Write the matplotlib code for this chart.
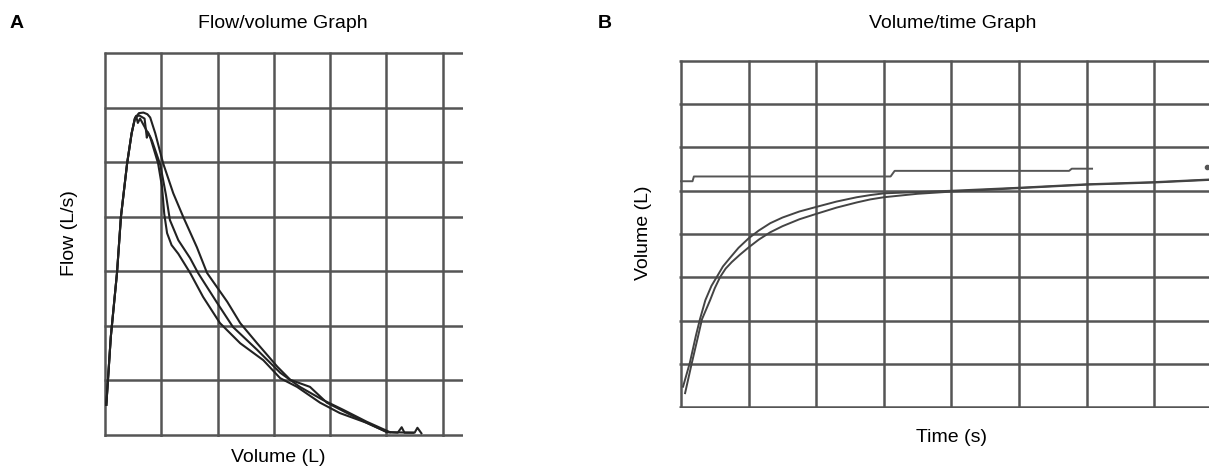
import matplotlib.pyplot as plt

plt.rcParams['font.family'] = ['Liberation Sans', 'DejaVu Sans']

W, H = 1209, 475

# Panel A: flow/volume loops (grid units)
rise_vol = [0.02, 0.10, 0.21, 0.28, 0.39, 0.47, 0.53]
rise_flow = [0.55, 1.80, 2.97, 4.00, 4.98, 5.53, 5.81]

a1_vol = [0.60, 0.68, 0.75, 0.80, 0.89, 1.03, 1.21, 1.39, 1.63, 1.81, 2.17, 2.40,
          2.70, 3.06, 3.29, 3.64, 3.94, 4.30, 4.65, 5.01, 5.47]
a1_flow = [5.90, 5.91, 5.88, 5.82, 5.53, 4.98, 4.43, 3.99, 3.44, 2.97, 2.44, 2.05,
           1.68, 1.25, 1.01, 0.88, 0.59, 0.40, 0.22, 0.05, 0.04]

a2_vol = [0.55, 0.58, 0.62, 0.80, 0.94, 1.01, 1.05, 1.10, 1.18, 1.30, 1.51, 1.74,
          2.04, 2.40, 2.81, 3.11, 3.41, 3.82, 4.17, 4.65, 5.01, 5.20, 5.27, 5.32,
          5.50, 5.55, 5.62]
a2_flow = [5.85, 5.72, 5.80, 5.46, 4.98, 4.55, 4.05, 3.70, 3.48, 3.32, 2.97, 2.53,
           2.05, 1.68, 1.37, 1.04, 0.88, 0.59, 0.40, 0.22, 0.05, 0.04, 0.14, 0.04,
           0.04, 0.13, 0.03]

a3_vol = [0.60, 0.70, 0.74, 0.76, 0.83, 0.98, 1.08, 1.15, 1.30, 1.51, 1.65, 1.99,
          2.27, 2.70, 3.11, 3.46, 3.87, 4.23, 4.65, 5.06]
a3_flow = [5.86, 5.80, 5.45, 5.55, 5.40, 4.95, 4.40, 3.94, 3.57, 3.24, 2.97, 2.42,
           1.98, 1.56, 1.14, 0.88, 0.64, 0.46, 0.24, 0.05]

# Panel B: volume/time traces (grid units)
b1_time = [0.03, 0.13, 0.22, 0.28, 0.36, 0.45, 0.53, 0.62, 0.72, 0.85, 1.00, 1.15,
           1.32, 1.50, 1.75, 2.01, 2.30, 2.60, 2.80, 3.00, 3.50, 4.00, 5.00, 6.00,
           7.00, 7.81]
b1_vol = [0.47, 1.02, 1.65, 2.03, 2.47, 2.80, 3.01, 3.25, 3.44, 3.68, 3.90, 4.08,
          4.25, 4.38, 4.52, 4.63, 4.75, 4.85, 4.90, 4.94, 4.97, 5.00, 5.07, 5.15,
          5.20, 5.26]

b2_time = [0.06, 0.16, 0.25, 0.31, 0.43, 0.50, 0.58, 0.66, 0.75, 0.87, 1.00, 1.15,
           1.32, 1.50, 1.75, 2.01, 2.30, 2.60, 2.80, 3.00, 3.50, 4.00, 5.00, 6.00,
           7.00, 7.81]
b2_vol = [0.32, 1.02, 1.62, 2.03, 2.47, 2.75, 3.01, 3.20, 3.35, 3.52, 3.69, 3.87,
          4.04, 4.18, 4.34, 4.47, 4.61, 4.73, 4.80, 4.85, 4.93, 4.98, 5.06, 5.14,
          5.19, 5.25]

step_time = [0.00, 0.17, 0.19, 3.10, 3.16, 5.74, 5.78, 6.08]
step_vol = [5.22, 5.22, 5.33, 5.33, 5.46, 5.46, 5.51, 5.51]


def px_axes(fig, x0, y0, x1, y1):
    # pixel box (top-left origin) -> figure axes
    return fig.add_axes([x0 / W, 1 - y1 / H, (x1 - x0) / W, (y1 - y0) / H])


def grid_style(ax, nx, ny):
    ax.set_xticks(range(nx))
    ax.set_yticks(range(ny))
    ax.grid(True, color='#555555', linewidth=1.8, solid_capstyle='butt')
    ax.tick_params(length=0, width=0, labelbottom=False, labelleft=False)
    for s in ax.spines.values():
        s.set_visible(False)
    ax.set_axisbelow(True)


fig = plt.figure(figsize=(W / 100, H / 100), dpi=100)

# Panel A
axA = px_axes(fig, 103.5, 51.5, 463, 436.5)
axA.set_xlim(-0.03, 6.36)
axA.set_ylim(-0.03, 7.03)
grid_style(axA, 7, 8)
for xs, ys in [(a1_vol, a1_flow), (a2_vol, a2_flow), (a3_vol, a3_flow)]:
    axA.plot(rise_vol + xs, rise_flow + ys, color='#222222', lw=1.5,
             solid_joinstyle='round')

# Panel B
axB = px_axes(fig, 679, 59.7, 1209, 408.3)
axB.set_xlim(-0.03, 7.81)
axB.set_ylim(-0.03, 8.03)
grid_style(axB, 8, 9)
axB.plot(b1_time, b1_vol, color='#444444', lw=1.4, solid_joinstyle='round')
axB.plot(b2_time, b2_vol, color='#444444', lw=1.4, solid_joinstyle='round')
axB.plot(step_time, step_vol, color='#555555', lw=1.4)
axB.plot([7.78], [5.55], marker='o', ms=3, color='#555555', clip_on=False)

fs = 14
fig.text(17 / W, 1 - 24 / H, 'A', fontsize=fs, fontweight='bold', ha='center', va='center')
fig.text(283 / W, 1 - 24 / H, 'Flow/volume Graph', fontsize=fs, ha='center', va='center')
fig.text(69 / W, 1 - 233 / H, 'Flow (L/s)', fontsize=fs, rotation=90, ha='center', va='center')
fig.text(278 / W, 1 - 458 / H, 'Volume (L)', fontsize=fs, ha='center', va='center')

fig.text(605 / W, 1 - 24 / H, 'B', fontsize=fs, fontweight='bold', ha='center', va='center')
fig.text(953 / W, 1 - 24 / H, 'Volume/time Graph', fontsize=fs, ha='center', va='center')
fig.text(644 / W, 1 - 233 / H, 'Volume (L)', fontsize=fs, rotation=90, ha='center', va='center')
fig.text(952 / W, 1 - 438 / H, 'Time (s)', fontsize=fs, ha='center', va='center')

fig.savefig('out.png', dpi=100)
